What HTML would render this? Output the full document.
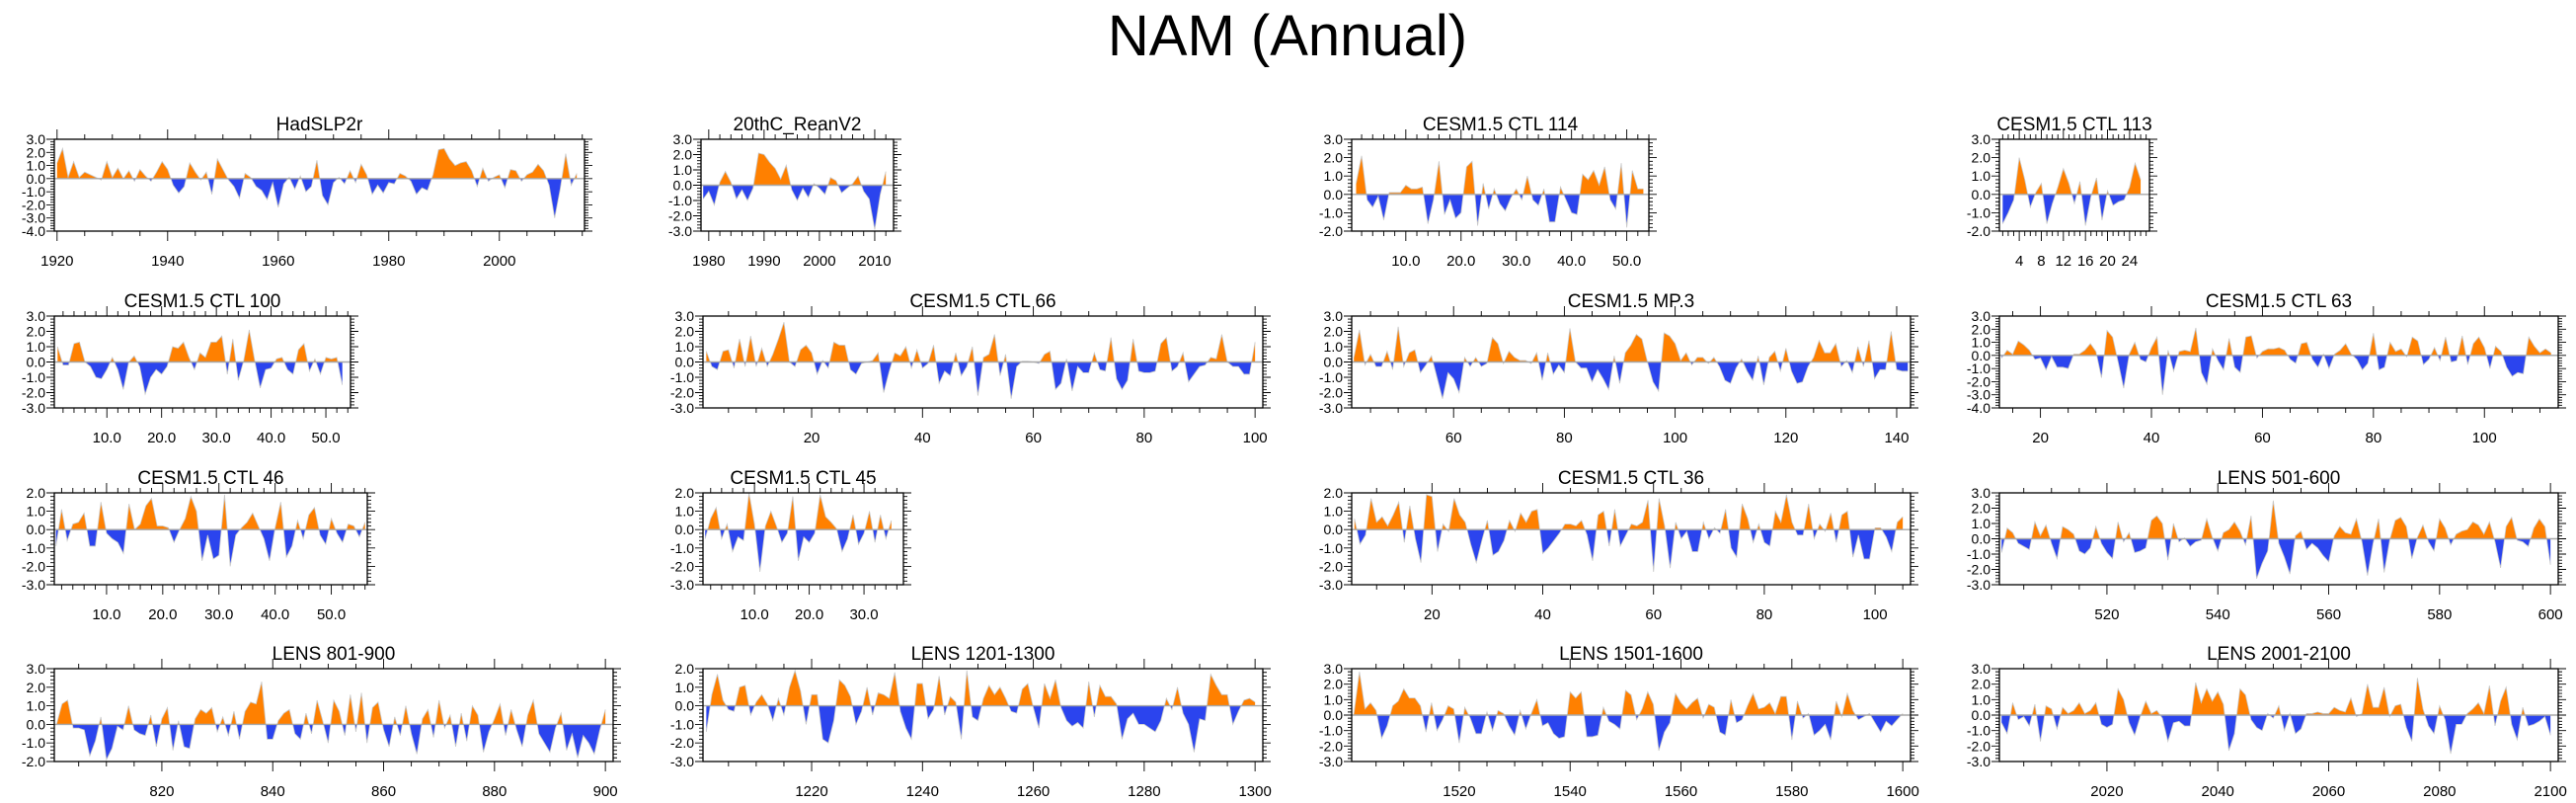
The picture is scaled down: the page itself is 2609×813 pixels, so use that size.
<!DOCTYPE html>
<html>
<head>
<meta charset="utf-8">
<style>
  html,body{margin:0;padding:0;background:#fff;}
  body{width:2609px;height:813px;overflow:hidden;}
  svg{display:block;font-family:"Liberation Sans",Arial,sans-serif;}
</style>
</head>
<body>
<svg id="fig" width="2609" height="813" viewBox="0 0 2609 813" xmlns="http://www.w3.org/2000/svg">
  <rect x="0" y="0" width="2609" height="813" fill="#fff"/>
  <text x="1304" y="56" text-anchor="middle" font-size="58" fill="#000">NAM (Annual)</text>
</svg>
<script>
// ---------- data (start index + values per panel) ----------
const hadslpStart = 1920;
const hadslpValues = [1.2,2.3,0.1,1.3,0.1,0.5,0.3,0.1,-0.1,1.3,0.1,0.8,0,0.6,-0.2,0.7,0.2,-0.2,0.5,1.3,
 0.7,-0.5,-1.1,-0.6,1.2,0.5,-0.1,0.5,-1.2,1.5,0.7,-0.1,-0.6,-1.5,0.4,0.1,-0.6,-0.9,-1.6,-0.3,
 -2.2,-0.4,0.1,-0.8,0.2,-1.0,-0.6,1.4,-1.3,-2.0,-0.3,0.1,-0.4,0.6,-0.3,1.1,0.3,-1.2,-0.5,-1.1,
 -0.3,-0.4,0.4,0.2,-0.2,-1.2,-0.7,-0.9,0.3,2.2,2.3,1.5,1.0,1.2,1.3,0.6,-0.6,0.8,-0.2,0.1,
 0.3,-0.7,0.7,0.6,-0.2,0.3,0.5,1.1,0.6,-0.5,-3.0,-0.8,1.9,-0.5,0.4];
const reanStart = 1979;
const reanValues = [-0.9,-0.4,-1.3,0.2,0.9,0.2,-0.9,-0.3,-1.0,-0.2,2.1,2.0,1.5,1.1,0.4,1.3,-0.3,-1.0,-0.2,-0.8,
 0.1,-0.2,-0.6,0.5,0.3,-0.5,-0.2,0.1,0.6,-0.4,-0.9,-2.9,-0.6,0.9];
const ctl114Start = 1;
const ctl114Values = [0.6,2.1,-0.3,-0.7,-0.1,-1.4,0.1,0.1,0.1,0.5,0.3,0.3,0.4,-1.6,-0.3,1.8,-1.1,-0.3,-1.3,-1.0,
 1.5,1.8,-1.7,0.6,-0.8,0.3,-0.5,-0.9,-0.2,0.3,-0.3,1.0,-0.3,-0.6,0.3,-1.5,-1.5,0.4,-0.3,-1.0,
 -1.1,1.1,0.8,1.3,0.5,1.5,-0.3,-0.8,1.7,-1.8,1.3,0.3,0.3];
const ctl113Start = 1;
const ctl113Values = [-1.6,-1.0,-0.3,2.0,0.8,-0.7,0.1,0.6,-1.6,-0.5,0.4,1.4,0.6,-0.5,0.7,-1.7,-0.1,0.9,-1.4,0.2,
 -0.6,-0.4,-0.3,0.4,1.7,0.8];
const ctl100Start = 1;
const ctl100Values = [1.0,-0.2,-0.2,1.2,1.3,0,-0.3,-1.0,-1.1,-0.5,0.3,-0.5,-1.8,0,0.4,-0.3,-2.1,-1.0,-0.5,-0.8,
 -0.3,1.0,0.9,1.3,0.3,-0.5,0.6,0.3,1.3,1.3,1.7,-0.8,1.5,-1.2,0.1,2.1,0.1,-1.7,-0.5,-0.4,
 0.2,0.3,-0.5,-0.8,0.8,1.2,-0.6,0.2,-0.8,0.3,0.2,0.3,-1.5];
const ctl66Start = 1;
const ctl66Values = [0.7,-0.3,-0.5,0.7,0.8,-0.4,1.5,-0.3,1.7,-0.3,0.9,-0.3,0.5,1.5,2.6,0,-0.3,0.8,1.1,0.6,
 -0.8,0.1,-0.4,1.3,1.1,1.1,-0.5,-0.8,-0.1,0,0.1,0.6,-2.0,-0.6,0.6,0.4,1.0,-0.4,0.8,-0.4,
 -0.1,1.1,-1.4,-0.6,-0.9,0.6,-0.9,-0.3,1.0,-2.2,0.3,0.5,1.8,-0.9,0.5,-2.4,-0.3,0.05,0.05,0,
 -0.1,0.5,0.7,-1.8,-1.4,0.2,-1.9,-0.3,-0.7,-0.7,0.6,-0.5,-0.6,1.6,-1.1,-1.8,-1.2,1.5,-0.6,-0.7,
 -0.7,-0.6,1.2,1.6,-0.6,-0.3,0.6,-1.3,-0.8,-0.3,-0.2,0.3,0.2,1.8,0,-0.3,-0.3,-0.8,-0.8,1.3];
const mp3Start = 42;
const mp3Values = [0.3,2.1,-0.2,0.5,-0.3,-0.3,0.7,-0.5,2.3,-0.3,0.6,0.8,-0.7,-0.2,0.4,-1.0,-2.4,-0.7,-1.1,-2.0,
 0.3,-0.3,0.3,-0.3,-0.1,1.6,1.2,-0.1,0.7,0.3,0.1,0.1,-0.1,0.6,-1.2,0.6,-0.8,-0.2,-0.7,2.2,
 0,-0.4,-0.4,-1.3,-0.5,-1.1,-1.8,0.4,-1.4,0.6,1.1,1.8,1.5,0,-1.3,-1.9,1.9,1.7,1.2,0.1,
 0.6,-0.2,0.3,0.3,-0.1,0.3,-0.3,-1.2,-1.4,-0.4,0.2,-0.6,-1.2,0.4,-1.5,0.3,0.7,-0.6,0.9,-0.6,
 -1.4,-1.3,-0.3,0.3,1.4,0.6,0.6,1.2,-0.3,0.1,-0.7,1.0,-0.3,1.4,-1.1,-0.5,-0.5,2.0,-0.5,-0.6,-0.6];
const ctl63Start = 13;
const ctl63Values = [-0.2,0.4,0.1,1.1,0.8,0.4,-0.3,-0.2,-1.1,-0.1,-0.9,-0.9,-1.0,0.1,0.1,0.4,0.9,0.3,-1.7,1.9,
 1.4,-0.5,-2.5,0.1,1.0,-0.3,-0.5,0.6,1.4,-3.0,0.4,-1.2,0.3,0.4,0.3,2.1,-1.3,-2.2,0.5,-0.4,
 -1.1,1.3,-0.9,-1.3,1.4,1.5,-0.2,0.3,0.5,0.5,0.6,0.4,-0.3,-0.6,0.9,1.0,-0.3,-0.9,0.1,-1.0,
 0.1,0.4,0.9,0.1,-0.3,-1.1,-0.6,1.7,-1.1,-0.9,1.0,0.3,0.5,-0.1,1.4,1.1,-0.7,-0.3,0.6,-0.4,
 1.4,-0.5,-0.4,1.5,-0.7,0.9,1.4,0.6,-1.0,0.7,0.3,-0.9,-1.6,-1.3,-1.4,1.4,0.7,0.2,0.5,0.2];
const ctl46Start = 1;
const ctl46Values = [-0.9,1.1,-0.6,0.3,0.4,0.9,-0.9,-0.9,1.5,-0.2,-0.5,-0.7,-1.3,1.4,0,0.3,1.3,1.7,0.2,0.2,
 0.1,-0.7,0,0.6,1.8,1.0,-1.7,-0.3,-1.6,-1.4,1.9,-2.0,-0.3,0.1,0.4,0.9,0.2,-0.5,-1.7,0.1,
 1.5,-1.5,-0.9,0.5,-0.5,0.8,1.2,-0.3,-0.8,0.6,-0.2,-0.7,0.3,0.2,-0.4,0.4];
const ctl45Start = 1;
const ctl45Values = [-0.5,0.6,1.2,-0.5,0.3,-1.2,-0.4,-0.6,2.0,0.3,-2.3,0.2,1.0,0.2,-0.7,-0.2,1.8,-1.7,-0.4,-0.7,
 -0.2,1.9,0.7,0.4,0.05,-1.2,-0.5,0.8,-0.8,-0.2,1.0,-0.7,0.8,-0.5,0.5];
const ctl36Start = 6;
const ctl36Values = [0.6,-0.8,-0.3,1.7,0.4,0.7,0.2,0.8,1.5,-0.7,1.3,-0.5,-1.8,1.9,1.8,-1.2,0.3,-0.1,1.7,0.8,
 0.4,-0.8,-1.8,-0.6,0.5,-1.4,-1.2,-0.6,0.5,-0.1,0.9,0.4,1.0,1.1,-1.3,-1.0,-0.6,-0.2,0.3,0.3,
 0.2,0.5,-0.3,-1.7,0.8,1.0,-0.9,1.1,-0.9,-0.3,0.3,0.2,0.4,1.6,-2.3,1.7,0.2,-2.1,0.4,-0.5,
 -0.1,-1.2,-1.2,0.4,-0.5,0.1,-0.2,1.1,-1.0,-1.5,1.4,0.6,-0.7,0.3,-0.7,-0.9,1.0,0.4,1.9,0.4,
 -0.3,-0.3,1.4,-0.5,0.3,-0.1,0.9,-0.7,0.8,1.0,-1.5,-0.3,-1.6,-1.6,0.1,0.1,-0.4,-1.2,0.4,0.7];
const lens501Start = 501;
const lens501Values = [-0.9,0.7,0.4,-0.3,-0.5,-0.7,1.1,0.2,0.9,-0.3,-1.3,0.8,0.6,0.3,-0.8,-1.0,-0.6,0.8,-0.3,-0.9,
 -1.3,1.1,-0.2,0.4,-0.9,-0.8,-0.6,1.2,1.5,1.0,-1.4,1.0,-0.2,0.05,-0.5,-0.2,-0.1,1.3,0.1,-0.8,
 0.4,0.6,1.1,0.5,-0.4,1.5,-2.6,-1.6,-0.8,2.5,-0.3,-1.2,-2.3,0.2,0.5,-0.7,-0.3,-0.6,-1.1,-1.5,
 0.2,0.8,0.4,0.3,1.3,-0.2,-2.4,-0.3,1.3,-2.2,-0.1,1.2,1.4,0.8,-1.3,0.1,0.9,-0.2,-0.8,1.3,
 0.7,-0.4,0.3,0.5,0.6,1.1,0.9,0.3,1.1,-0.2,-1.9,0.8,1.4,-0.1,-0.2,-0.5,0.7,1.3,0.8,-1.7];
const lens801Start = 801;
const lens801Values = [0,1.1,1.3,-0.2,-0.2,-0.3,-1.7,-0.9,0.4,-1.9,-1.3,-0.1,-0.3,1.0,-0.3,-0.5,-0.6,0.5,-1.2,0.3,
 0.9,-1.4,0.2,-1.2,-1.3,0.3,0.8,0.6,0.9,-0.4,0.4,-0.6,0.7,-0.8,0.7,1.2,1.1,2.3,-0.8,-0.8,
 0.2,0.6,0.8,-0.5,-0.8,0.6,-0.5,1.3,0.2,-1.0,1.3,0.7,-0.6,1.6,-0.4,1.7,-1.0,0.9,1.2,-0.3,
 -1.2,0.4,-0.6,1.0,-0.5,-1.6,0.3,0.8,-0.7,1.3,-0.2,0.5,-1.2,0.6,-0.9,1.0,0.5,-1.5,-0.4,0.3,
 1.1,-0.6,0.8,-0.3,-1.2,0.5,1.3,-0.5,-1.0,-1.5,-0.2,0.6,-1.4,-0.5,-1.8,-0.6,-1.0,-1.6,-0.3,0.8];
const lens1201Start = 1201;
const lens1201Values = [-1.4,0.6,1.7,0.3,-0.2,-0.3,1.0,1.1,-0.5,0.2,0.6,0.1,-0.8,0.4,-0.5,1.0,1.9,0.8,-1.0,0.6,
 0.6,-1.8,-2.0,-0.8,1.4,1.1,0.5,-1.0,-0.3,1.0,-0.5,0.7,0.6,0.4,1.8,-0.3,-1.2,-1.8,1.2,1.2,
 -0.7,-0.2,1.6,-0.5,0.5,0.2,-1.8,1.9,-0.6,-0.8,0.4,1.1,0.6,1.0,0.4,-0.3,-0.4,0.9,1.2,-0.1,
 -1.2,1.2,0.4,1.4,-0.1,-0.8,-1.1,-0.9,-1.2,1.3,-0.6,1.1,0.5,0.5,0.1,-1.8,-0.7,-0.4,-1.0,-1.0,
 -1.2,-1.4,-0.8,0.4,-0.2,1.0,-0.4,-1.0,-2.5,-0.7,-0.8,1.7,1.1,0.6,0.6,-1.0,-0.3,0.3,0.4,0.2];
const lens1501Start = 1501;
const lens1501Values = [0.1,2.8,0.4,0.8,0.3,-1.5,-0.7,0.6,0.9,1.7,1.1,1.1,0.6,-1.1,0.8,-1.0,-0.3,0.6,0.4,-1.8,
 0.5,-0.2,-1.2,-1.2,0.2,-1.0,0.3,0.1,-0.7,-1.3,0.3,-0.9,0.1,1.0,-0.7,-0.5,-1.2,-1.5,-1.4,1.5,
 1.1,1.5,-1.4,-1.4,-1.3,0.5,-0.4,-0.6,-0.9,1.6,1.3,-0.3,0.4,1.5,0.7,-2.3,-1.1,-0.5,1.4,0.8,
 0.4,0.8,1.1,-0.2,0.7,0.5,-1.1,-1.3,1.0,-0.5,-0.3,0.6,1.4,0.4,0.5,0.8,0.1,1.2,1.2,-1.6,
 0.9,-0.2,0.1,-1.3,-1.0,-0.6,-1.6,0.9,-0.1,1.4,0.3,-0.3,-0.1,0.1,-0.5,-1.1,-0.4,-0.7,-0.3,0.1];
const lens2001Start = 2001;
const lens2001Values = [-0.5,-1.2,0.8,-0.3,-0.1,-0.7,0.7,-1.7,0.6,0.4,-0.9,0.5,0.1,0.3,0.8,0.1,0.3,0.8,-0.6,-0.8,
 -0.6,1.7,1.0,-0.5,-1.3,-0.1,0.9,0.1,0.3,-0.2,-1.7,-0.5,-0.4,-0.7,-0.7,2.1,0.8,1.7,0.9,1.5,
 0.7,-2.3,-1.2,1.7,1.3,-0.3,-0.8,-1.0,0.1,-0.2,0.6,-1.0,0.1,-1.2,-0.9,0.1,0.1,0.2,0.1,0.1,
 0.5,0.3,0.2,1.1,-0.1,0.1,2.0,0.5,0.5,1.8,-0.1,0.6,0.7,-0.8,-1.7,2.4,0.4,-0.7,-1.2,0.6,
 -0.3,-2.5,-0.6,-0.6,0.1,0.4,0.8,0.1,1.9,-0.7,0.9,1.8,-0.6,-1.6,0.5,-0.7,-0.6,-0.4,-0.1,-1.3];

// ---------- tick labels ----------
const hadslpTicks = [1920,1940,1960,1980,2000];
const reanTicks = [1980,1990,2000,2010];
const ctl114Ticks = [10,20,30,40,50];
const ctl113Ticks = [4,8,12,16,20,24];
const ctl100Ticks = [10,20,30,40,50];
const ctl66Ticks = [20,40,60,80,100];
const mp3Ticks = [60,80,100,120,140];
const ctl63Ticks = [20,40,60,80,100];
const ctl46Ticks = [10,20,30,40,50];
const ctl45Ticks = [10,20,30];
const ctl36Ticks = [20,40,60,80,100];
const lens501Ticks = [520,540,560,580,600];
const lens801Ticks = [820,840,860,880,900];
const lens1201Ticks = [1220,1240,1260,1280,1300];
const lens1501Ticks = [1520,1540,1560,1580,1600];
const lens2001Ticks = [2020,2040,2060,2080,2100];

// ---------- layout ----------
const R1=[141,234], R2=[320,413], R3=[499,592], R4=[677,771];
const panels = [
 {name:'hadslp2r', title:'HadSLP2r', L:55, R:592, row:R1, d:[1919.5,2015.4], y:[-4,3], start:hadslpStart, vals:hadslpValues, ticks:hadslpTicks, minor:5, dec:0},
 {name:'20thc-reanv2', title:'20thC_ReanV2', L:710, R:905, row:R1, d:[1978.6,2013.4], y:[-3,3], start:reanStart, vals:reanValues, ticks:reanTicks, minor:2, dec:0},
 {name:'cesm-ctl-114', title:'CESM1.5 CTL 114', L:1369, R:1670, row:R1, d:[0.2,54.0], y:[-2,3], start:ctl114Start, vals:ctl114Values, ticks:ctl114Ticks, minor:2, dec:1},
 {name:'cesm-ctl-113', title:'CESM1.5 CTL 113', L:2025, R:2177, row:R1, d:[0.4,27.6], y:[-2,3], start:ctl113Start, vals:ctl113Values, ticks:ctl113Ticks, minor:1, dec:0},
 {name:'cesm-ctl-100', title:'CESM1.5 CTL 100', L:55, R:355, row:R2, d:[0.4,54.5], y:[-3,3], start:ctl100Start, vals:ctl100Values, ticks:ctl100Ticks, minor:2, dec:1},
 {name:'cesm-ctl-66', title:'CESM1.5 CTL 66', L:712, R:1279, row:R2, d:[0.4,101.4], y:[-3,3], start:ctl66Start, vals:ctl66Values, ticks:ctl66Ticks, minor:5, dec:0},
 {name:'cesm-mp3', title:'CESM1.5 MP.3', L:1369, R:1935, row:R2, d:[41.6,142.5], y:[-3,3], start:mp3Start, vals:mp3Values, ticks:mp3Ticks, minor:5, dec:0},
 {name:'cesm-ctl-63', title:'CESM1.5 CTL 63', L:2025, R:2591, row:R2, d:[12.6,113.3], y:[-4,3], start:ctl63Start, vals:ctl63Values, ticks:ctl63Ticks, minor:5, dec:0},
 {name:'cesm-ctl-46', title:'CESM1.5 CTL 46', L:55, R:372, row:R3, d:[0.7,56.4], y:[-3,2], start:ctl46Start, vals:ctl46Values, ticks:ctl46Ticks, minor:2, dec:1},
 {name:'cesm-ctl-45', title:'CESM1.5 CTL 45', L:712, R:915, row:R3, d:[0.6,37.2], y:[-3,2], start:ctl45Start, vals:ctl45Values, ticks:ctl45Ticks, minor:2, dec:1},
 {name:'cesm-ctl-36', title:'CESM1.5 CTL 36', L:1369, R:1935, row:R3, d:[5.5,106.4], y:[-3,2], start:ctl36Start, vals:ctl36Values, ticks:ctl36Ticks, minor:5, dec:0},
 {name:'lens-501-600', title:'LENS 501-600', L:2025, R:2591, row:R3, d:[500.6,601.4], y:[-3,3], start:lens501Start, vals:lens501Values, ticks:lens501Ticks, minor:5, dec:0},
 {name:'lens-801-900', title:'LENS 801-900', L:55, R:621, row:R4, d:[800.6,901.4], y:[-2,3], start:lens801Start, vals:lens801Values, ticks:lens801Ticks, minor:5, dec:0},
 {name:'lens-1201-1300', title:'LENS 1201-1300', L:712, R:1279, row:R4, d:[1200.4,1301.4], y:[-3,2], start:lens1201Start, vals:lens1201Values, ticks:lens1201Ticks, minor:5, dec:0},
 {name:'lens-1501-1600', title:'LENS 1501-1600', L:1369, R:1935, row:R4, d:[1500.6,1601.4], y:[-3,3], start:lens1501Start, vals:lens1501Values, ticks:lens1501Ticks, minor:5, dec:0},
 {name:'lens-2001-2100', title:'LENS 2001-2100', L:2025, R:2591, row:R4, d:[2000.6,2101.4], y:[-3,3], start:lens2001Start, vals:lens2001Values, ticks:lens2001Ticks, minor:5, dec:0}
];

const NS='http://www.w3.org/2000/svg';
const fig=document.getElementById('fig');
function mk(tag, attrs, parent){
  const e=document.createElementNS(NS,tag);
  for(const k in attrs) e.setAttribute(k,attrs[k]);
  (parent||fig).appendChild(e);
  return e;
}

panels.forEach((p,pi)=>{
  const T=p.row[0], B=p.row[1];
  const sx=v=>p.L+(v-p.d[0])/(p.d[1]-p.d[0])*(p.R-p.L);
  const sy=v=>T+(p.y[1]-v)/(p.y[1]-p.y[0])*(B-T);
  const g=mk('g',{});
  
  

  // clip paths
  const defs=mk('defs',{},g);
  const y0=sy(0);
  const cu=mk('clipPath',{id:'cu'+pi},defs);
  mk('rect',{x:p.L,y:T,width:p.R-p.L,height:y0-T},cu);
  const cd=mk('clipPath',{id:'cd'+pi},defs);
  mk('rect',{x:p.L,y:y0,width:p.R-p.L,height:B-y0},cd);

  // area path
  let d='M'+sx(p.start).toFixed(2)+','+y0.toFixed(2);
  let line='';
  p.vals.forEach((v,i)=>{
    const X=sx(p.start+i).toFixed(2), Y=sy(v).toFixed(2);
    d+=' L'+X+','+Y;
    line+=(i?' L':'M')+X+','+Y;
  });
  d+=' L'+sx(p.start+p.vals.length-1).toFixed(2)+','+y0.toFixed(2)+' Z';
  const pos=mk('path',{d:d,fill:'#ff8000','clip-path':'url(#cu'+pi+')'},g);
  
  
  const neg=mk('path',{d:d,fill:'#2b44ee','clip-path':'url(#cd'+pi+')'},g);
  
  
  const ln=mk('path',{d:line,fill:'none',stroke:'#c8c8c8','stroke-width':0.8},g);
  
  
  const zl=mk('line',{x1:p.L,x2:p.R,y1:y0,y2:y0,stroke:'#a8a8a8','stroke-width':1.4},g);
  
  

  // frame
  const fr=mk('rect',{x:p.L,y:T,width:p.R-p.L,height:B-T,fill:'none',stroke:'#000','stroke-width':1.3},g);
  
  

  // y ticks and labels
  let tk='';
  for(let v=p.y[0]; v<=p.y[1]+1e-6; v+=1){
    const Y=sy(v);
    tk+='M'+(p.L-8)+','+Y+' H'+p.L+' M'+p.R+','+Y+' H'+(p.R+8)+' ';
    const lab=mk('text',{x:p.L-9,y:Y+5,'text-anchor':'end','font-size':14,fill:'#000'},g);
    lab.textContent=v.toFixed(1);
    
    
  }
  for(let v=p.y[0]; v<=p.y[1]+1e-6; v+=0.2){
    const Y=sy(v);
    tk+='M'+(p.L-4)+','+Y+' H'+p.L+' M'+p.R+','+Y+' H'+(p.R+4)+' ';
  }
  // x ticks
  const first=Math.ceil(p.d[0]/p.minor)*p.minor;
  for(let v=first; v<=p.d[1]; v+=p.minor){
    const X=sx(v);
    const major=p.ticks.some(t=>Math.abs(t-v)<1e-6);
    const len=major?10:5;
    tk+='M'+X+','+(B)+' V'+(B+len)+' M'+X+','+T+' V'+(T-len)+' ';
  }
  const ticks=mk('path',{d:tk,stroke:'#000','stroke-width':0.9,fill:'none'},g);
  
  
  p.ticks.forEach(t=>{
    const lab=mk('text',{x:sx(t),y:B+35,'text-anchor':'middle','font-size':15,fill:'#000'},g);
    lab.textContent=t.toFixed(p.dec);
    
    
  });
  // title
  const tt=mk('text',{x:(p.L+p.R)/2,y:T-9,'text-anchor':'middle','font-size':19,fill:'#000'},g);
  tt.textContent=p.title;
  
  
});
</script>
</body>
</html>
